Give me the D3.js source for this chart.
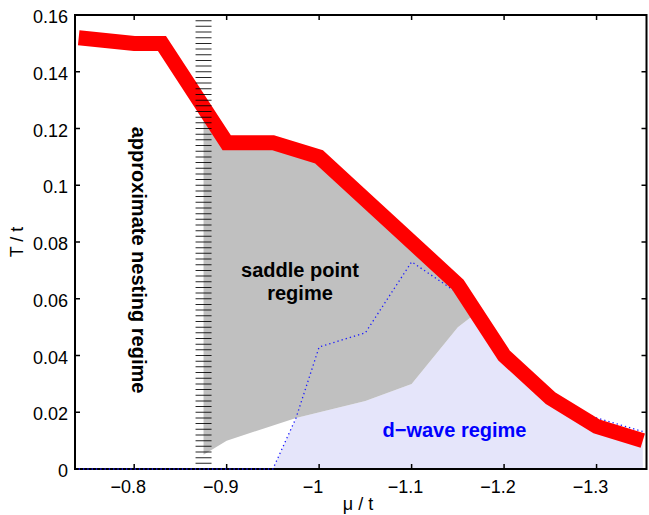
<!DOCTYPE html>
<html>
<head>
<meta charset="utf-8">
<script src="https://cdn.jsdelivr.net/npm/d3@7"></script>
<style>
  html, body { margin: 0; padding: 0; background: #fff; }
  svg { display: block; }
  text { font-family: "Liberation Sans", Arial, Helvetica, sans-serif; }
</style>
</head>
<body>
<svg id="chart" width="649" height="515"></svg>
<script>
// ---- data ----
const xDomain = [-0.736, -1.354];
const yDomain = [0, 0.16];
const xTicks = [-0.8, -0.9, -1.0, -1.1, -1.2, -1.3];
const xTickLabels = ["\u22120.8", "\u22120.9", "\u22121", "\u22121.1", "\u22121.2", "\u22121.3"];
const yTicks = [0, 0.02, 0.04, 0.06, 0.08, 0.1, 0.12, 0.14, 0.16];
const yTickLabels = ["0", "0.02", "0.04", "0.06", "0.08", "0.1", "0.12", "0.14", "0.16"];

// red Tc curve
const tcMu = [-0.74, -0.8, -0.83, -0.9, -0.95, -1.0, -1.05, -1.1, -1.15, -1.2, -1.25, -1.3, -1.35];
const tcT  = [0.152, 0.150, 0.150, 0.115, 0.115, 0.110, 0.095, 0.080, 0.065, 0.040, 0.025, 0.015, 0.010];

// saddle point regime (grey): upper boundary follows Tc, lower boundary:
const saddleTopMu = [-0.875, -0.9, -0.95, -1.0, -1.05, -1.1, -1.15, -1.17];
const saddleTopT  = [0.1275, 0.115, 0.115, 0.110, 0.095, 0.080, 0.065, 0.055];
const saddleLowMu = [-0.875, -0.9, -0.975, -1.05, -1.1, -1.15, -1.17];
const saddleLowT  = [0.005, 0.010, 0.018, 0.024, 0.030, 0.050, 0.055];

// d-wave regime area (lavender), top boundary, filled to T = 0
const dAreaMu = [-0.95, -0.975, -1.05, -1.1, -1.15, -1.17, -1.2, -1.25, -1.3, -1.35];
const dAreaT  = [0, 0.018, 0.024, 0.030, 0.050, 0.055, 0.040, 0.025, 0.015, 0.010];

// d-wave Tc (blue dotted)
const dTcMu = [-0.74, -0.95, -0.975, -1.0, -1.05, -1.1, -1.15, -1.2, -1.25, -1.3, -1.35];
const dTcT  = [0, 0, 0.018, 0.043, 0.048, 0.073, 0.062, 0.039, 0.024, 0.018, 0.0132];

// nesting boundary (hatched line)
const nestMu = -0.875;
const hatchRange = [0.002, 0.158];
const hatchStep = 0.002;

// ---- layout ----
const svg = d3.select("#chart");
const L = 75, R = 646.5, T = 15, B = 469;
const x = d3.scaleLinear().domain(xDomain).range([L, R]);
const y = d3.scaleLinear().domain(yDomain).range([B, T]);

const line = d3.line().x(d => x(d[0])).y(d => y(d[1]));
const zip = (a, b) => a.map((v, i) => [v, b[i]]);

// lavender area
svg.append("path")
  .attr("d", d3.area().x(d => x(d[0])).y0(y(0)).y1(d => y(d[1]))(zip(dAreaMu, dAreaT)))
  .attr("fill", "#e5e5fa");

// grey polygon
const greyPts = zip(saddleTopMu, saddleTopT).concat(zip(saddleLowMu, saddleLowT).reverse());
svg.append("path")
  .attr("d", line(greyPts) + "Z")
  .attr("fill", "#c0c0c0");

// ---- axes box ----
const ax = svg.append("g");
ax.append("rect").attr("x", L).attr("y", T).attr("width", R - L).attr("height", B - T)
  .attr("fill", "none").attr("stroke", "#000").attr("stroke-width", 2);

const tickLen = 5;
xTicks.forEach((t, i) => {
  ax.append("line").attr("x1", x(t)).attr("x2", x(t)).attr("y1", B).attr("y2", B - tickLen)
    .attr("stroke", "#000").attr("stroke-width", 1.5);
  ax.append("line").attr("x1", x(t)).attr("x2", x(t)).attr("y1", T).attr("y2", T + tickLen)
    .attr("stroke", "#000").attr("stroke-width", 1.5);
  ax.append("text").attr("x", x(t) - 6).attr("y", B + 23.5)
    .attr("text-anchor", "middle").attr("font-size", 18).text(xTickLabels[i]);
});
yTicks.forEach((t, i) => {
  ax.append("line").attr("x1", L).attr("x2", L + tickLen).attr("y1", y(t)).attr("y2", y(t))
    .attr("stroke", "#000").attr("stroke-width", 1.5);
  ax.append("line").attr("x1", R).attr("x2", R - tickLen).attr("y1", y(t)).attr("y2", y(t))
    .attr("stroke", "#000").attr("stroke-width", 1.5);
  ax.append("text").attr("x", 68).attr("y", y(t) + 8)
    .attr("text-anchor", "end").attr("font-size", 18).text(yTickLabels[i]);
});

// blue dotted d-wave Tc
svg.append("path")
  .attr("d", line(zip(dTcMu, dTcT)))
  .attr("fill", "none")
  .attr("stroke", "#1a1aff")
  .attr("stroke-width", 1.3)
  .attr("stroke-dasharray", "1.3,3");

// red Tc
svg.append("path")
  .attr("d", line(zip(tcMu, tcT)))
  .attr("fill", "none")
  .attr("stroke", "#ff0000")
  .attr("stroke-width", 15)
  .attr("stroke-linejoin", "miter")
  .attr("stroke-linecap", "butt");

// hatched nesting line
const period = y(0) - y(hatchStep);
svg.append("path")
  .attr("d", `M${x(nestMu)},${y(hatchRange[0]) + 0.5}L${x(nestMu)},${y(hatchRange[1]) - 0.5}`)
  .attr("stroke", "#000")
  .attr("stroke-width", 16)
  .attr("stroke-dasharray", `1 ${period - 1}`)
  .attr("opacity", 0.85);

// axis labels
svg.append("text").attr("transform", `translate(23,${(T + B) / 2}) rotate(-90)`)
  .attr("text-anchor", "middle").attr("font-size", 18).text("T / t");
svg.append("text").attr("x", 358).attr("y", 510)
  .attr("text-anchor", "middle").attr("font-size", 18).text("\u03bc / t");

// annotations
svg.append("text").attr("transform", "translate(132,260) rotate(90)")
  .attr("text-anchor", "middle").attr("font-size", 20).attr("font-weight", "bold")
  .text("approximate nesting regime");
svg.append("text").attr("x", 300).attr("y", 277)
  .attr("text-anchor", "middle").attr("font-size", 20).attr("font-weight", "bold")
  .text("saddle point");
svg.append("text").attr("x", 300).attr("y", 300)
  .attr("text-anchor", "middle").attr("font-size", 20).attr("font-weight", "bold")
  .text("regime");
svg.append("text").attr("x", 454.5).attr("y", 437)
  .attr("text-anchor", "middle").attr("font-size", 20).attr("font-weight", "bold")
  .attr("fill", "#0000ff")
  .text("d\u2212wave regime");
</script>
</body>
</html>
